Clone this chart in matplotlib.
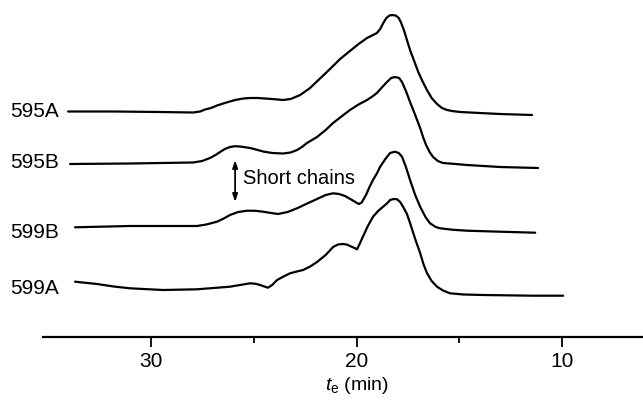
import matplotlib

matplotlib.use("Agg")
import matplotlib.pyplot as plt
from matplotlib.ticker import FixedLocator

plt.rcParams["font.family"] = ["Liberation Sans", "DejaVu Sans"]
plt.rcParams["mathtext.fontset"] = "custom"
plt.rcParams["mathtext.rm"] = "Liberation Sans"
plt.rcParams["mathtext.it"] = "Liberation Sans:italic"

# elution traces: retention time (min) and detector response above each trace's baseline
samples = ["595A", "595B", "599B", "599A"]
baselines = [225, 174, 111, 49]

t_595a = [34.02, 31.83, 29.55, 27.94, 27.6, 27.36, 27.07, 26.78, 26.4, 25.90, 25.5, 25.17,
          24.8, 24.45, 24.0, 23.57, 23.2, 22.74, 22.26, 21.8, 21.29, 20.8, 20.32, 19.9,
          19.49, 19.2, 19.01, 18.85, 18.7, 18.55, 18.4, 18.28, 18.1, 17.95, 17.85, 17.7,
          17.55, 17.4, 17.2, 17.0, 16.8, 16.58, 16.35, 16.09, 15.85, 15.6, 15.3, 14.97,
          14.0, 13.03, 11.47]
s_595a = [0.5, 0.5, 0, -0.5, 0.5, 2.5, 4, 6.5, 9, 12, 13.5, 14,
          14, 13.5, 12.8, 12, 13, 17, 24, 33, 43, 53, 61, 68,
          74, 77, 79, 83, 89, 94, 96.5, 97, 96.5, 94, 90, 82,
          72, 62, 51, 40, 31, 22, 14, 8, 4, 2, 0.8, 0,
          -1, -2, -3]

t_595b = [33.92, 31.01, 27.94, 27.5, 27.12, 26.85, 26.63, 26.4, 26.15, 25.9, 25.66, 25.17,
          24.8, 24.54, 24.1, 23.57, 23.2, 22.89, 22.65, 22.41, 21.92, 21.5, 21.14, 20.7,
          20.32, 19.9, 19.49, 19.2, 19.01, 18.75, 18.52, 18.32, 18.13, 17.93, 17.79, 17.6,
          17.4, 17.15, 16.91, 16.75, 16.62, 16.45, 16.28, 16.05, 15.8, 15.2, 14.63, 13.03,
          11.18]
s_595b = [-1, -0.5, 0.5, 2, 5, 8, 11, 14, 16, 16.8, 16.5, 15,
          13, 11.5, 10, 9.5, 10.5, 13, 16, 20, 26, 33, 40, 47,
          53, 58.5, 63, 67, 70, 76, 81, 85, 86, 85, 81, 72,
          61, 48, 35, 25, 18, 11, 6, 2, 0, -1, -2, -4,
          -5]

t_599b = [33.68, 31.01, 27.75, 27.3, 26.78, 26.45, 26.15, 25.75, 25.32, 24.9, 24.54, 24.15,
          23.81, 23.35, 22.89, 22.4, 21.92, 21.5, 21.14, 20.85, 20.56, 20.22, 19.98, 19.88,
          19.75, 19.54, 19.37, 19.2, 19.0, 18.86, 18.6, 18.37, 18.13, 17.95, 17.79, 17.6,
          17.4, 17.15, 16.91, 16.65, 16.43, 16.15, 15.94, 15.3, 14.63, 13.03, 11.32]
s_599b = [-1.3, 0, 0, 1.5, 4.3, 7.5, 11, 14, 15.3, 15.2, 14.3, 13,
          12, 14, 17.7, 22.5, 27, 31, 32.7, 32, 30, 26, 23, 22,
          23.5, 31, 39, 46, 53, 59, 67, 73, 74.3, 73, 69.3, 59,
          46, 31, 19.3, 9, 2.7, -1, -2.3, -3.8, -4.7, -5.7, -6.7]

t_599a = [33.68, 32.61, 31.8, 31.01, 29.4, 27.75, 26.15, 25.17, 24.9, 24.69, 24.45, 24.3,
          24.1, 23.86, 23.55, 23.23, 22.9, 22.6, 22.25, 21.92, 21.5, 21.14, 20.9, 20.66,
          20.45, 20.32, 20.1, 19.98, 19.85, 19.69, 19.45, 19.2, 18.95, 18.71, 18.5, 18.37,
          18.2, 18.03, 17.88, 17.74, 17.55, 17.4, 17.15, 16.91, 16.75, 16.58, 16.35, 16.09,
          15.8, 15.46, 14.8, 13.85, 11.42, 9.96]
s_599a = [6.3, 4, 1.5, -0.3, -2, -1.3, 1.3, 4.7, 4.2, 3, 1.3, 0.3,
          3, 8, 11.5, 14.7, 16.5, 18, 21.5, 26, 33, 41, 43.5, 44,
          43.3, 42, 40, 38.7, 44, 51.3, 62, 71.3, 77, 81.3, 85, 88,
          89, 88.7, 86, 81.3, 74, 65, 49, 35, 24, 15, 7, 1.3,
          -2.5, -5.3, -6.5, -7, -7.7, -7.7]

traces = [(t_595a, s_595a), (t_595b, s_595b), (t_599b, s_599b), (t_599a, s_599a)]
label_y = [225.3, 174, 105, 49]

major_ticks = [30, 20, 10]
minor_ticks = [25, 15]

fig = plt.figure(figsize=(6.43, 4.0), dpi=100)
ax = fig.add_axes([42.7 / 643, 63 / 400, 1 - 42.7 / 643, 337 / 400])

for (t, s), base in zip(traces, baselines):
    ax.plot(t, [v + base for v in s], color="black", linewidth=1.6,
            solid_joinstyle="round", solid_capstyle="round")

for name, y in zip(samples, label_y):
    ax.text(34.45, y, name, ha="right", va="center", fontsize=15)

# marker for the short-chain region
ax.annotate("", xy=(25.9, 135), xytext=(25.9, 177),
            arrowprops=dict(arrowstyle="<|-|>,head_length=0.45,head_width=0.15",
                            color="black", lw=1.3, shrinkA=0, shrinkB=0))
ax.text(25.5, 158.7, "Short chains", ha="left", va="center", fontsize=14.5)

ax.set_xlim(35.25, 6.08)
ax.set_ylim(0, 337)
for side in ["left", "right", "top"]:
    ax.spines[side].set_visible(False)
ax.spines["bottom"].set_linewidth(1.6)
ax.set_yticks([])
ax.xaxis.set_major_locator(FixedLocator(major_ticks))
ax.xaxis.set_minor_locator(FixedLocator(minor_ticks))
ax.tick_params(axis="x", which="major", direction="out", length=7, width=1.3,
               labelsize=15, pad=4)
ax.tick_params(axis="x", which="minor", direction="out", length=4.5, width=1.3)

fig.text(357 / 643, 4 / 400, r"$t_\mathrm{e}$ (min)", ha="center", va="bottom",
         fontsize=14)

fig.savefig("out.png", dpi=100)
